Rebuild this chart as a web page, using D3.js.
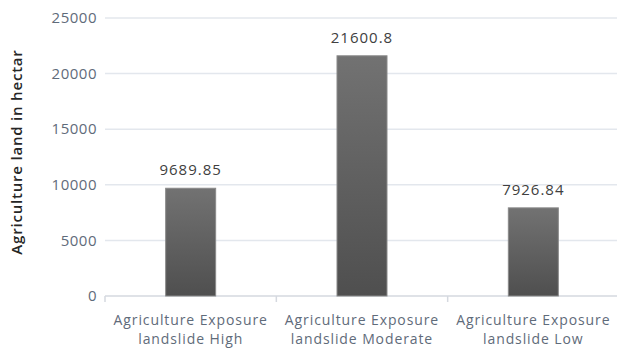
<!DOCTYPE html>
<html>
<head>
<meta charset="utf-8">
<script src="https://cdn.jsdelivr.net/npm/d3@7"></script>
<style>
  body { margin: 0; background: #fff; }
  text { font-family: "Open Sans", sans-serif; }
</style>
</head>
<body>
<div id="viz"></div>
<script>
// chart data
var categories = [
  ['Agriculture Exposure', 'landslide High'],
  ['Agriculture Exposure', 'landslide Moderate'],
  ['Agriculture Exposure', 'landslide Low']
];
var values = [9689.85, 21600.8, 7926.84];
var valueLabels = ['9689.85', '21600.8', '7926.84'];
var yTicks = [0, 5000, 10000, 15000, 20000, 25000];

var width = 617, height = 348;
var margin = {left: 105, right: -2, top: 18, bottom: 52};

var svg = d3.select('#viz').append('svg')
  .attr('width', width)
  .attr('height', height);

var innerW = width - margin.left - margin.right;
var innerH = height - margin.top - margin.bottom;

var plot = svg.append('g')
  .attr('transform', 'translate(' + margin.left + ',' + margin.top + ')');

var x = d3.scaleBand().domain(d3.range(values.length)).range([0, innerW]).paddingInner(0).paddingOuter(0);
var y = d3.scaleLinear().domain([0, 25000]).range([innerH, 0]);

// bar gradient
var grad = svg.append('defs').append('linearGradient')
  .attr('id', 'barGrad').attr('x1', 0).attr('y1', 0).attr('x2', 0).attr('y2', 1);
grad.append('stop').attr('offset', '0%').attr('stop-color', '#727272');
grad.append('stop').attr('offset', '100%').attr('stop-color', '#4f4f4f');

// gridlines
plot.selectAll('.grid')
  .data(yTicks.filter(function (d) { return d > 0; }))
  .enter().append('line')
  .attr('class', 'grid')
  .attr('x1', 0).attr('x2', innerW)
  .attr('y1', function (d) { return y(d); })
  .attr('y2', function (d) { return y(d); })
  .attr('stroke', '#e3e7ed').attr('stroke-width', 1.5);

// y tick labels
plot.selectAll('.ytick')
  .data(yTicks)
  .enter().append('text')
  .attr('class', 'ytick')
  .attr('x', -8)
  .attr('y', function (d) { return y(d); })
  .attr('dy', '0.35em')
  .attr('text-anchor', 'end')
  .attr('font-size', '15px')
  .attr('letter-spacing', '0.5px')
  .attr('fill', '#5f6b7a')
  .text(function (d) { return d; });

// x axis line + ticks
plot.append('line')
  .attr('x1', 0).attr('x2', innerW)
  .attr('y1', innerH).attr('y2', innerH)
  .attr('stroke', '#d5d9df').attr('stroke-width', 1.5);
plot.selectAll('.xtick')
  .data(d3.range(values.length + 1))
  .enter().append('line')
  .attr('class', 'xtick')
  .attr('x1', function (d) { return d * x.step(); })
  .attr('x2', function (d) { return d * x.step(); })
  .attr('y1', innerH).attr('y2', innerH + 6)
  .attr('stroke', '#d5d9df').attr('stroke-width', 1.5);

// bars
var barW = 50;
plot.selectAll('.bar')
  .data(values)
  .enter().append('rect')
  .attr('class', 'bar')
  .attr('x', function (d, i) { return x(i) + x.bandwidth() / 2 - barW / 2; })
  .attr('y', function (d) { return y(d); })
  .attr('width', barW)
  .attr('height', function (d) { return innerH - y(d); })
  .attr('fill', 'url(#barGrad)')
  .attr('stroke', '#8a8a8a').attr('stroke-width', 1);

// value labels
plot.selectAll('.vlabel')
  .data(values)
  .enter().append('text')
  .attr('class', 'vlabel')
  .attr('x', function (d, i) { return x(i) + x.bandwidth() / 2; })
  .attr('y', function (d) { return y(d) - 13; })
  .attr('text-anchor', 'middle')
  .attr('font-size', '15px')
  .attr('letter-spacing', '1px')
  .attr('fill', '#404040')
  .text(function (d, i) { return valueLabels[i]; });

// category labels
var cat = plot.selectAll('.cat')
  .data(categories)
  .enter().append('text')
  .attr('class', 'cat')
  .attr('text-anchor', 'middle')
  .attr('font-size', '14px')
  .attr('letter-spacing', '0.9px')
  .attr('fill', '#5f6b7a');
cat.selectAll('tspan')
  .data(function (d, i) { return d.map(function (t) { return {t: t, i: i}; }); })
  .enter().append('tspan')
  .attr('x', function (d) { return x(d.i) + x.bandwidth() / 2; })
  .attr('y', function (d, j) { return innerH + 29 + j * 19; })
  .text(function (d) { return d.t; });

// y axis title
svg.append('text')
  .attr('transform', 'translate(22,' + (margin.top + innerH / 2 - 5) + ') rotate(-90)')
  .attr('text-anchor', 'middle')
  .attr('font-size', '15px')
  .attr('letter-spacing', '0.8px')
  .attr('font-weight', 600)
  .attr('fill', '#262626')
  .text('Agriculture land in hectar');
</script>
</body>
</html>
